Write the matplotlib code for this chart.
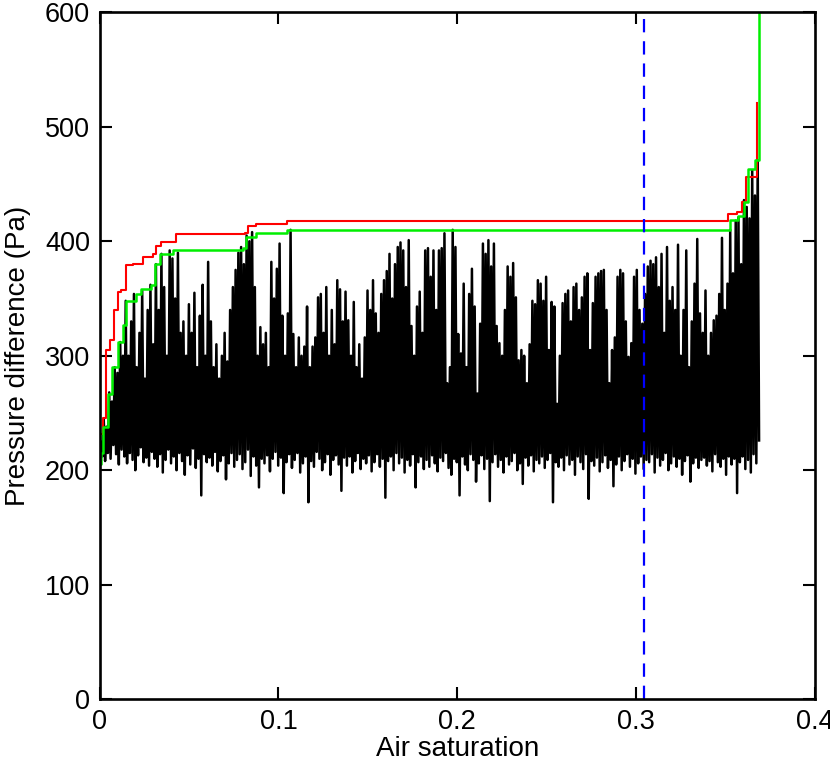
import matplotlib
matplotlib.use("Agg")
import matplotlib.pyplot as plt
import numpy as np

# black trace: alternating troughs / peaks (Pa), read segment by segment
troughs = [
    205, 212, 208, 215, 210, 222, 214, 205, 218, 212,
    206, 215, 209, 200, 213, 220, 207, 211, 204, 216,
    210, 203, 214, 198, 209, 218, 206, 212, 200, 215,
    208, 196, 213, 205, 219, 202, 210, 178, 214, 207,
    211, 204, 216, 199, 208, 213, 192, 206, 215, 203,
    209, 214, 201, 207, 218, 195, 212, 204, 185, 210,
    206, 213, 199, 210, 216, 204, 211, 180, 207, 214,
    202, 209, 215, 198, 206, 212, 172, 208, 203, 216,
    210, 200, 207, 214, 196, 209, 213, 205, 182, 211,
    204, 212, 198, 208, 215, 201, 210, 206, 213, 199,
    207, 214, 203, 210, 176, 208, 212, 200, 215, 206,
    211, 198, 209, 204, 214, 185, 207, 212, 201, 209,
    203, 213, 206, 199, 211, 208, 215, 202, 196, 210,
    207, 178, 212, 205, 200, 214, 209, 190, 206, 213,
    201, 210, 173, 207, 214, 203, 209, 198, 212, 205,
    208, 215, 200, 206, 188, 211, 204, 213, 199, 209,
    206, 212, 202, 209, 215, 172, 207, 203, 211, 200,
    213, 205, 209, 196, 212, 207, 201, 214, 175, 208,
    204, 211, 199, 207, 213, 202, 209, 186, 205, 212,
    200, 208, 214, 203, 210, 197, 206, 212, 201, 209,
    207, 214, 198, 211, 204, 209, 215, 200, 206, 212,
    203, 210, 196, 208, 213, 190, 206, 211, 202, 209,
    211, 204, 208, 199, 214, 207, 203, 210, 196, 212,
    205, 210, 180, 207, 212, 201, 209, 198, 214, 206,
    226,
]
peaks = [
    225, 245, 238, 268, 260, 290, 285, 312, 300, 348,
    300, 330, 354, 290, 320, 357, 280, 340, 362, 310,
    380, 340, 389, 360, 300, 392, 385, 350, 390, 320,
    330, 300, 345, 320, 355, 290, 335, 362, 300, 382,
    330, 290, 310, 280, 300, 320, 295, 340, 360, 375,
    390, 395, 380, 405, 400, 408, 360, 300, 325, 310,
    320, 290, 382, 350, 376, 398, 335, 300, 337, 410,
    319, 290, 316, 300, 308, 343, 290, 308, 316, 351,
    354, 320, 360, 300, 340, 310, 366, 358, 330, 356,
    331, 300, 347, 290, 310, 280, 316, 357, 340, 366,
    337, 320, 354, 366, 374, 389, 350, 380, 395, 399,
    392, 360, 401, 326, 300, 343, 356, 320, 392, 394,
    369, 392, 340, 392, 394, 407, 276, 290, 410, 395,
    319, 302, 363, 290, 354, 376, 343, 267, 328, 398,
    389, 401, 378, 398, 326, 311, 300, 340, 378, 369,
    381, 351, 296, 305, 300, 276, 310, 348, 345, 366,
    363, 348, 369, 305, 347, 343, 258, 300, 346, 354,
    357, 330, 360, 363, 340, 351, 369, 372, 305, 346,
    369, 372, 374, 375, 340, 276, 305, 316, 369, 375,
    372, 330, 299, 311, 369, 375, 340, 328, 354, 378,
    383, 380, 386, 360, 389, 320, 395, 348, 360, 340,
    397, 300, 340, 392, 290, 330, 363, 402, 337, 320,
    357, 300, 320, 331, 335, 354, 403, 340, 363, 410,
    372, 418, 421, 380, 436, 430, 420, 462, 440, 471,
]
sat_end = 0.3687

red_x = [0, 0.0018, 0.0037, 0.006, 0.0078, 0.0102, 0.0121, 0.0149, 0.0186,
         0.0242, 0.0298, 0.0317, 0.0345, 0.0429, 0.0811, 0.083, 0.0877, 0.105,
         0.3515, 0.3562, 0.359, 0.3612, 0.3674]
red_y = [232, 246, 305, 314, 340, 356, 357, 379, 380,
         386, 389, 396, 399, 406, 407, 413, 415, 418,
         424, 426, 434, 456, 521]

green_x = [0, 0.001, 0.0018, 0.0046, 0.0071, 0.0102, 0.013, 0.0145, 0.0205,
           0.0233, 0.0289, 0.0308, 0.0336, 0.041, 0.0802, 0.082, 0.0877, 0.105,
           0.3524, 0.3571, 0.3603, 0.3627, 0.3664, 0.3685]
green_y = [205, 215, 238, 267, 290, 312, 327, 348, 354,
           358, 362, 380, 389, 392, 394, 404, 407, 410,
           419, 422, 434, 463, 471, 600]

breakthrough = 0.3045

black = []
for t, p in zip(troughs, peaks):
    black += [t, p]
black.append(troughs[-1])
black_x = np.linspace(0, sat_end, len(black))

plt.rcParams["font.family"] = ["Liberation Sans", "DejaVu Sans"]
fig = plt.figure(figsize=(8.3, 7.7), dpi=100)
ax = fig.add_axes([0.12, 0.092, 0.862, 0.892])

ax.plot(black_x, black, color="black", lw=1.8)
ax.plot(red_x, red_y, color="#ff0000", lw=1.5, drawstyle="steps-post")
ax.plot(green_x, green_y, color="#00ee00", lw=1.8, drawstyle="steps-post")
ax.axvline(breakthrough, color="#0000ff", lw=1.6, ls=(0, (6, 4)))

ax.set_xlim(0, 0.4)
ax.set_ylim(0, 600)
ax.set_xticks([0, 0.1, 0.2, 0.3, 0.4])
ax.set_xticklabels(["0", "0.1", "0.2", "0.3", "0.4"])
ax.set_yticks(range(0, 601, 100))
ax.tick_params(direction="in", length=8.5, width=1.5, top=True, right=True,
               labelsize=19.5, pad=7)
for s in ax.spines.values():
    s.set_linewidth(1.9)

ax.set_xlabel("Air saturation", fontsize=20, labelpad=1)
ax.set_ylabel("Pressure difference (Pa)", fontsize=20, labelpad=10)

fig.savefig("out.png", dpi=100)
